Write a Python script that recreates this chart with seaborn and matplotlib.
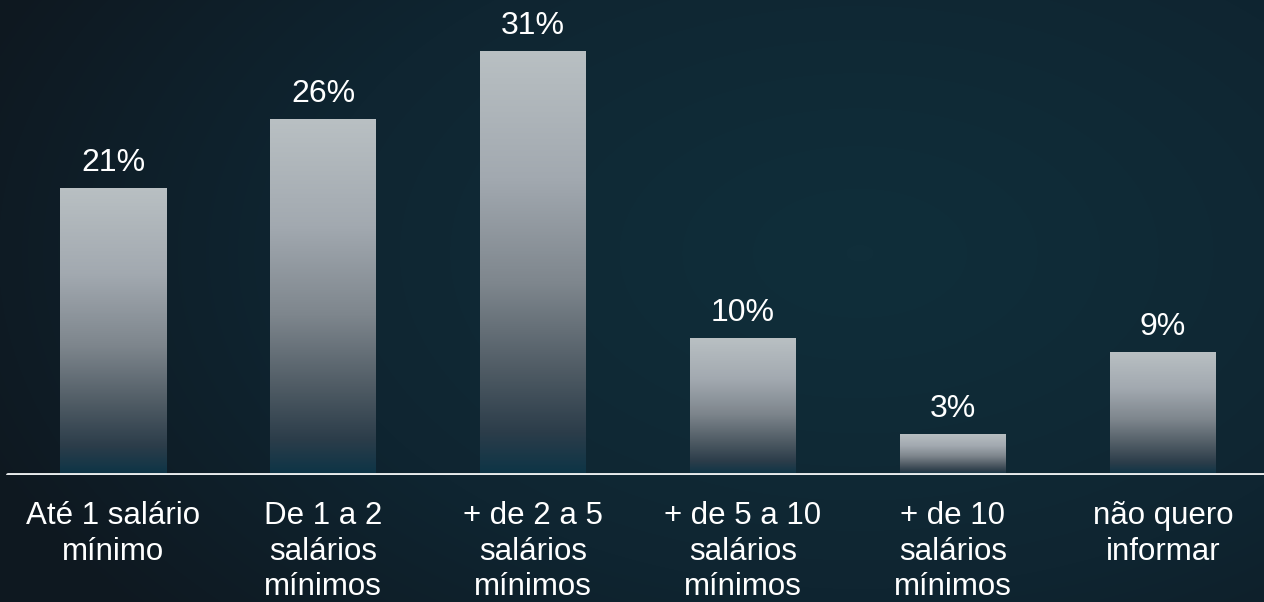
import numpy as np
import pandas as pd
import matplotlib
matplotlib.use("Agg")
import matplotlib.pyplot as plt
import seaborn as sns
from matplotlib.colors import LinearSegmentedColormap

categories = [
    "Até 1 salário\nmínimo",
    "De 1 a 2\nsalários\nmínimos",
    "+ de 2 a 5\nsalários\nmínimos",
    "+ de 5 a 10\nsalários\nmínimos",
    "+ de 10\nsalários\nmínimos",
    "não quero\ninformar",
]
values = [21, 26, 31, 10, 3, 9]
value_labels = ["21%", "26%", "31%", "10%", "3%", "9%"]

W, H = 1264, 602

sns.set_theme(style="white")
plt.rcParams["font.family"] = ["Liberation Sans", "DejaVu Sans"]

fig = plt.figure(figsize=(W / 100, H / 100), dpi=100)

# background: soft radial glow, dark at the edges
bg = fig.add_axes([0, 0, 1, 1])
yy, xx = np.mgrid[0:H, 0:W]
r = np.sqrt(((xx - 0.68 * W) / (0.75 * W)) ** 2 + ((yy - 0.42 * H) / (0.95 * H)) ** 2)
r = np.clip(r, 0, 1) ** 1.3
bg_cmap = LinearSegmentedColormap.from_list("bg", ["#102e3a", "#0f2531", "#0e1820"])
bg.imshow(r, cmap=bg_cmap, aspect="auto", extent=[0, 1, 0, 1], origin="upper")
bg.set_axis_off()

# plot area: baseline sits at y=475px, bar centres every 210px starting at 113px
base = 127 / H
ax = fig.add_axes([0, base, 1, 1 - base])
ax.patch.set_alpha(0)

df = pd.DataFrame({"cat": categories, "val": values})
sns.barplot(data=df, x="cat", y="val", color="#b9c0c3", width=106 / 210,
            linewidth=0, ax=ax)

ax.set_xlim(-113 / 210, (W - 113) / 210)
ax.set_ylim(0, 475 / 13.68)

bar_cmap = LinearSegmentedColormap.from_list(
    "bar",
    [(0.0, "#b9c0c3"), (0.3, "#a2a9b0"), (0.55, "#7e868d"),
     (0.75, "#505c65"), (0.9, "#2c3d4a"), (1.0, "#0c3446")],
)
grad = np.linspace(0, 1, 256).reshape(-1, 1)
for patch, lab in zip(ax.patches, value_labels):
    x0, y0 = patch.get_x(), patch.get_y()
    w, h = patch.get_width(), patch.get_height()
    patch.set_edgecolor("none")
    im = ax.imshow(grad, cmap=bar_cmap, aspect="auto", origin="upper",
                   extent=[x0, x0 + w, y0, y0 + h], zorder=patch.get_zorder() + 0.1)
    im.set_clip_path(patch)
    ax.text(x0 + w / 2, h + 1.25, lab, ha="center", va="baseline",
            color="white", fontsize=23)

ax.axhline(0, xmin=8 / W, xmax=1, color="#e8ebec", lw=2.8, zorder=5)

ax.set_xlabel("")
ax.set_ylabel("")
ax.set_yticks([])
ax.tick_params(axis="x", length=0, pad=19, labelsize=22.5, labelcolor="white")
for lbl in ax.get_xticklabels():
    lbl.set_linespacing(1.23)
sns.despine(ax=ax, left=True, bottom=True)

fig.savefig("out.png", dpi=100)
